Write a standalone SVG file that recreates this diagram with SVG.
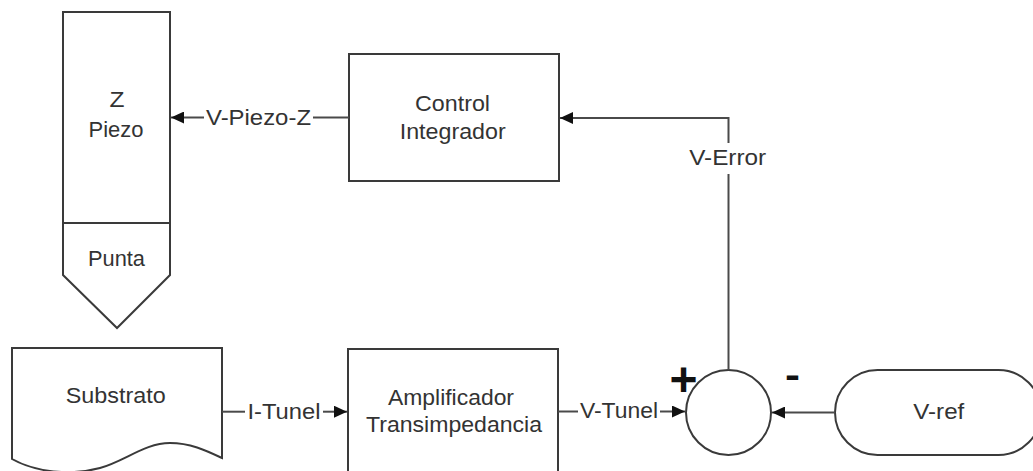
<svg xmlns="http://www.w3.org/2000/svg" width="1033" height="471" viewBox="0 0 1033 471">
<style>
.shape{fill:#fff;stroke:#3a3a3a;stroke-width:2}
.conn{fill:none;stroke:#4a4a4a;stroke-width:2}
text{font-family:"Liberation Sans",Arial,sans-serif;font-size:22px;fill:#333;text-anchor:middle}
.sign{font-weight:bold;fill:#111}
</style>
<defs>
<marker id="arr" markerUnits="userSpaceOnUse" markerWidth="14" markerHeight="12" refX="13" refY="6" orient="auto">
<path d="M0,0 L13,6 L0,12 Z" fill="#111"/>
</marker>
</defs>
<rect width="1033" height="471" fill="#fff"/>
<g id="piezo">
<rect class="shape" x="63" y="12" width="107" height="211"/>
<text x="117" y="107" textLength="15" lengthAdjust="spacingAndGlyphs">Z</text>
<text x="116" y="137" textLength="55" lengthAdjust="spacingAndGlyphs">Piezo</text>
</g>
<g id="punta">
<path class="shape" d="M63,223 H170 V275 L117,328 L63,275 Z"/>
<text x="116.5" y="266" textLength="57" lengthAdjust="spacingAndGlyphs">Punta</text>
</g>
<g id="control">
<rect class="shape" x="349" y="54" width="210" height="127"/>
<text x="452.5" y="110.7" textLength="75" lengthAdjust="spacingAndGlyphs">Control</text>
<text x="452.7" y="138.5" textLength="106" lengthAdjust="spacingAndGlyphs">Integrador</text>
</g>
<g id="substrato">
<path class="shape" d="M12,348 H222 V458 C205,450 190,443 170,443 C145,443 125,461 100,468 C70,476 35,472 12,459 Z"/>
<text x="115.7" y="402.7" textLength="100" lengthAdjust="spacingAndGlyphs">Substrato</text>
</g>
<g id="amplificador">
<rect class="shape" x="348" y="349" width="210" height="130"/>
<text x="451" y="405" textLength="126" lengthAdjust="spacingAndGlyphs">Amplificador</text>
<text x="454" y="431.7" textLength="176" lengthAdjust="spacingAndGlyphs">Transimpedancia</text>
</g>
<g id="sumador">
<circle class="shape" cx="728.5" cy="412.5" r="42.5"/>
</g>
<g id="vref">
<rect class="shape" x="835" y="370" width="206" height="85" rx="42.5" ry="42.5"/>
<text x="938.8" y="419" textLength="51" lengthAdjust="spacingAndGlyphs">V-ref</text>
</g>
<g id="connectors">
<line class="conn" x1="349" y1="117.5" x2="313" y2="117.5"/>
<line class="conn" x1="204" y1="117.5" x2="171" y2="117.5" marker-end="url(#arr)"/>
<text x="258.5" y="124.5" textLength="105" lengthAdjust="spacingAndGlyphs">V-Piezo-Z</text>
<polyline class="conn" points="728.5,370 728.5,174"/>
<polyline class="conn" points="728.5,143 728.5,118 560,118" marker-end="url(#arr)"/>
<text x="727.7" y="165" textLength="77" lengthAdjust="spacingAndGlyphs">V-Error</text>
<line class="conn" x1="222" y1="411.7" x2="245" y2="411.7"/>
<line class="conn" x1="323" y1="411.7" x2="347" y2="411.7" marker-end="url(#arr)"/>
<text x="284" y="419" textLength="73" lengthAdjust="spacingAndGlyphs">I-Tunel</text>
<line class="conn" x1="558" y1="411.5" x2="578" y2="411.5"/>
<line class="conn" x1="660" y1="411.5" x2="685" y2="411.5" marker-end="url(#arr)"/>
<text x="619" y="418.3" textLength="78" lengthAdjust="spacingAndGlyphs">V-Tunel</text>
<line class="conn" x1="835" y1="412.5" x2="772" y2="412.5" marker-end="url(#arr)"/>
<text class="sign" x="683.5" y="396" style="font-size:48px">+</text>
<text class="sign" x="792.5" y="387" style="font-size:36px" textLength="15" lengthAdjust="spacingAndGlyphs">-</text>
</g>
</svg>
